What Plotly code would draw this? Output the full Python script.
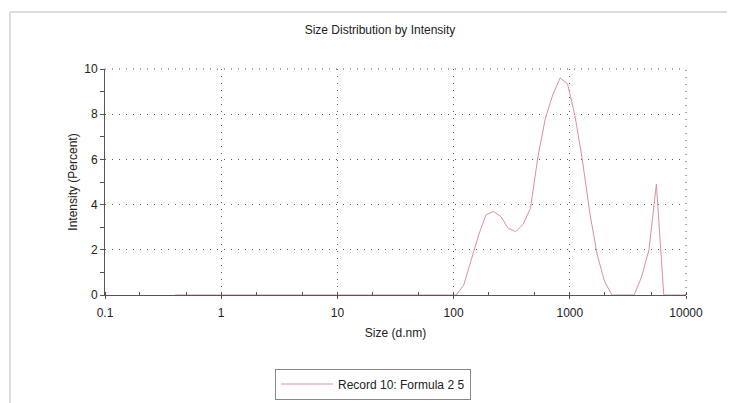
import plotly.graph_objects as go

# Size bins (d.nm) and intensity (%)
sizes = [0.4, 1.0, 10.0, 50.0, 91.3, 105.7, 122.4, 141.8, 164.2, 190.1, 220.2, 255.0,
         295.3, 342.0, 396.1, 458.7, 531.2, 615.1, 712.4, 825.0, 955.4, 1106,
         1281, 1484, 1718, 1990, 2305, 2669, 3091, 3580, 4145, 4801, 5560,
         6439, 7456, 8635, 10000]
intensity = [0, 0, 0, 0, 0, 0, 0.45, 1.5, 2.65, 3.55, 3.7, 3.47,
             2.95, 2.8, 3.12, 3.84, 6.1, 7.8, 8.85, 9.6, 9.35, 7.95,
             6.0, 3.65, 1.8, 0.6, 0, 0, 0, 0, 0.8, 2.0, 4.9,
             0, 0, 0, 0]

x_ticks = [0.1, 1, 10, 100, 1000, 10000]
x_tick_labels = ["0.1", "1", "10", "100", "1000", "10000"]
y_ticks = [0, 2, 4, 6, 8, 10]

title_text = "Size Distribution by Intensity"
x_title = "Size (d.nm)"
y_title = "Intensity (Percent)"
series_name = "Record 10: Formula 2 5"

FONT = "Liberation Sans, Arial, sans-serif"
TXT = "#222222"
AX = "#555555"

fig = go.Figure()
fig.add_trace(go.Scatter(
    x=sizes, y=intensity, mode="lines", name=series_name,
    line=dict(color="#dc909a", width=1), showlegend=True,
))

OFF = 8  # page body margin
W, H = 735 - OFF, 403 - OFF
# plot area in screen pixels: left 105, right 686, top 69, bottom 295
L = 105 - OFF
R = W - (686 - OFF)
T = 69 - OFF
B = H - (295 - OFF)
PW, PH = W - L - R, H - T - B

def px_x(p):  # screen px -> paper x
    return (p - OFF - L) / PW

def px_y(p):  # screen px -> paper y
    return (H - B - (p - OFF)) / PH

fig.update_layout(
    width=W, height=H,
    margin=dict(l=L, r=R, t=T, b=B, autoexpand=False),
    paper_bgcolor="white", plot_bgcolor="white",
    font=dict(family=FONT, size=12, color=TXT),
    title=dict(text=title_text, x=(380 - OFF) / W, xanchor="center",
               y=1 - (30 - OFF) / H, yanchor="middle",
               font=dict(family=FONT, size=12, color=TXT)),
    showlegend=True,
    legend=dict(x=px_x(275), y=px_y(384),
                xanchor="left", yanchor="middle",
                bordercolor="#888888", borderwidth=1, bgcolor="white",
                itemwidth=52, font=dict(family=FONT, size=12, color=TXT),
                tracegroupgap=0),
    xaxis=dict(
        type="log", range=[-1, 4], automargin=False,
        tickvals=x_ticks, ticktext=x_tick_labels,
        showgrid=True, gridcolor=AX, griddash="1px,6px", gridwidth=1,
        showline=True, linecolor=AX, linewidth=1,
        ticks="outside", ticklen=3, tickcolor=AX,
        ticklabelstandoff=4,
        minor=dict(ticks="inside", ticklen=3, tickcolor=AX, showgrid=False),
        zeroline=False,
        title=dict(text=x_title, standoff=9, font=dict(family=FONT, size=12, color=TXT)),
        tickfont=dict(family=FONT, size=12, color=TXT),
    ),
    yaxis=dict(
        range=[0, 10], tickvals=y_ticks, automargin=False,
        showgrid=True, gridcolor=AX, griddash="1px,6px", gridwidth=1,
        showline=True, linecolor=AX, linewidth=1,
        ticks="outside", ticklen=4, tickcolor=AX,
        minor=dict(dtick=1, ticks="outside", ticklen=4, tickcolor=AX, showgrid=False),
        zeroline=False,
        title=dict(text=y_title, standoff=4, font=dict(family=FONT, size=12, color=TXT)),
        tickfont=dict(family=FONT, size=12, color=TXT),
    ),
)

# dotted right and top borders of the plot area
fig.add_shape(type="line", xref="x domain", yref="y domain", x0=1, x1=1, y0=0, y1=1,
              line=dict(color=AX, width=1, dash="1px,6px"))
fig.add_shape(type="line", xref="x domain", yref="y domain", x0=0, x1=1, y0=1, y1=1,
              line=dict(color=AX, width=1, dash="1px,6px"))

# scanned page frame (top and left edges)
fig.add_shape(type="line", xref="paper", yref="paper",
              x0=px_x(10), x1=px_x(735), y0=px_y(12), y1=px_y(12),
              line=dict(color="#bbbbbb", width=1))
fig.add_shape(type="line", xref="paper", yref="paper",
              x0=px_x(10), x1=px_x(10), y0=px_y(403), y1=px_y(12),
              line=dict(color="#bbbbbb", width=1))

fig.write_html("out.html")
